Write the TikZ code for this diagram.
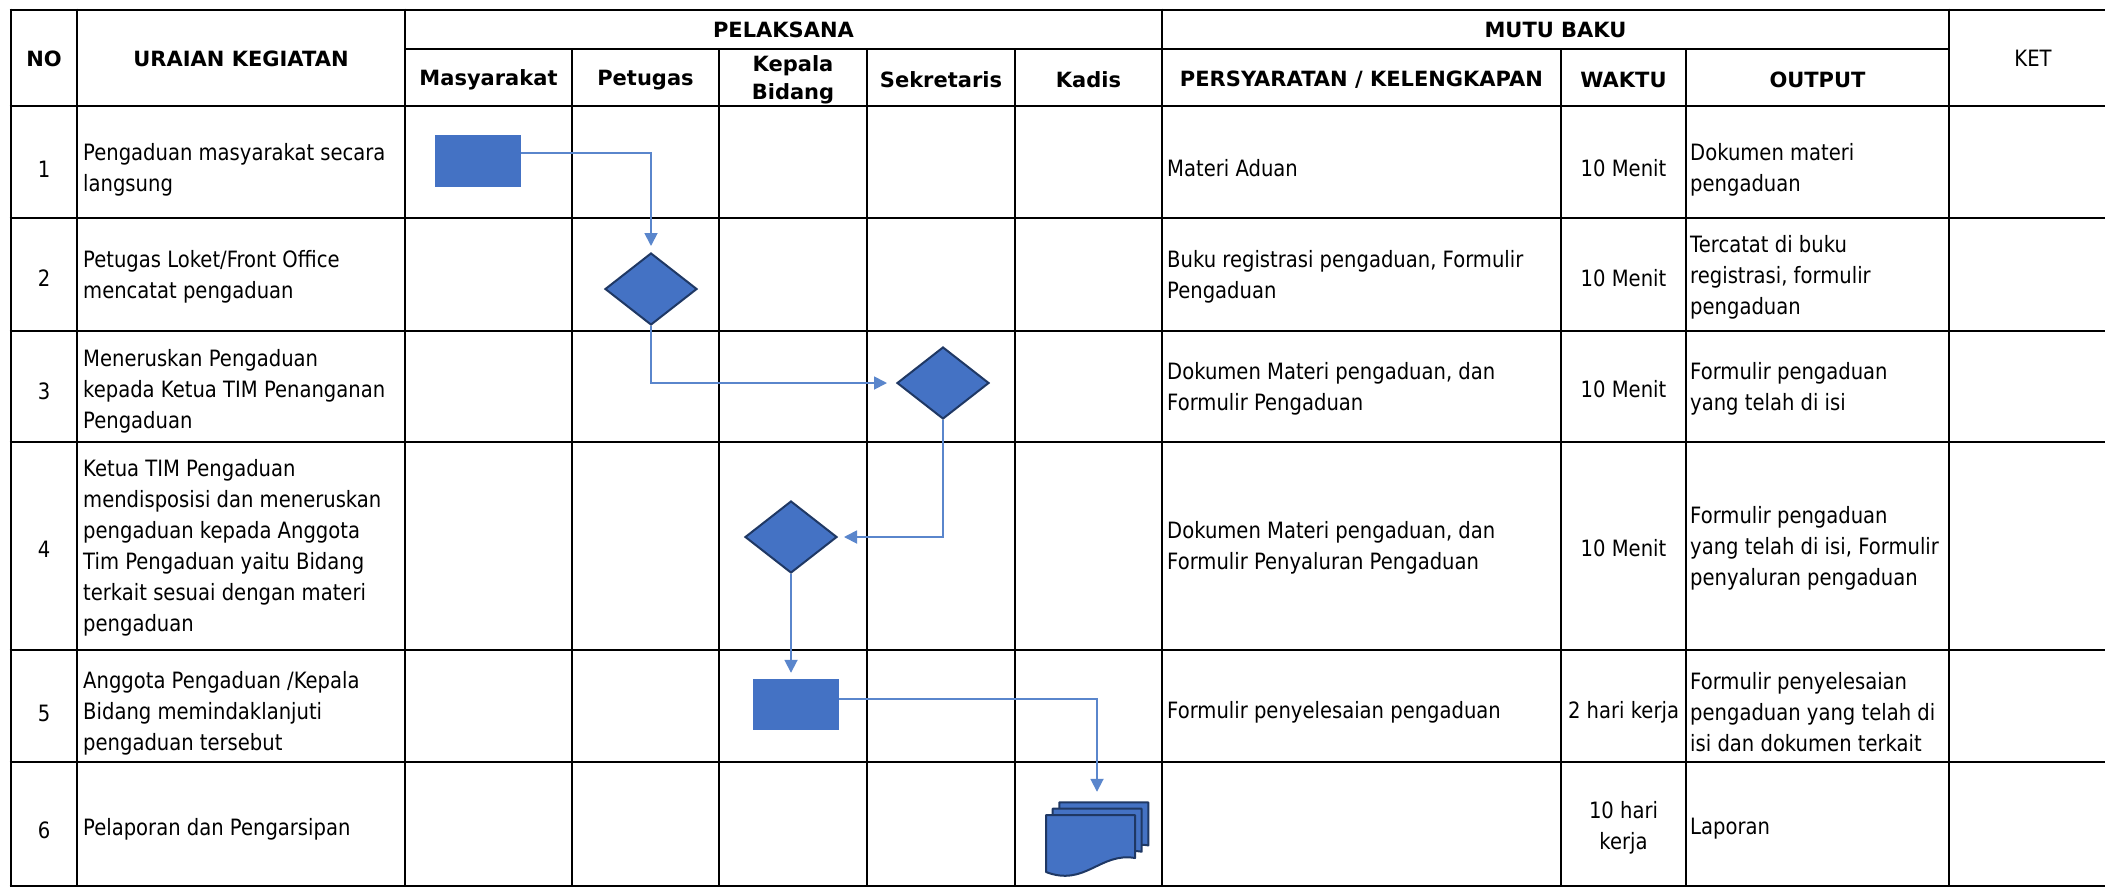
\documentclass[tikz,border=0pt]{standalone}
\usepackage{fontspec}
\setmainfont{DejaVu Sans}[FakeStretch=0.87]
\newfontfamily\hdrfont{DejaVu Sans}
\usetikzlibrary{shapes.geometric,arrows.meta}
\definecolor{boxblue}{HTML}{4472C4}
\definecolor{edgeblue}{HTML}{1F3864}
\definecolor{lineblue}{HTML}{5A86CC}
\begin{document}
\begin{tikzpicture}[x=1pt,y=-1pt,
  gridline/.style={line width=2.6pt, black},
  body/.style={font=\fontsize{22.5}{31}\selectfont, align=left, anchor=west, inner sep=0pt},
  ctr/.style={font=\fontsize{22.5}{31}\selectfont, align=center, inner sep=0pt},
  hdr/.style={font=\hdrfont\bfseries\fontsize{21}{28}\selectfont, align=center, inner sep=0pt},
  proc/.style={rectangle, fill=boxblue, inner sep=0pt, minimum width=86pt, minimum height=52pt},
  dec/.style={diamond, fill=boxblue, draw=edgeblue, line width=2pt, inner sep=0pt, minimum width=92pt, minimum height=72pt},
  conn/.style={draw=lineblue, line width=1.8pt, -{Triangle[length=13pt,width=13pt]}},
  docsh/.style={fill=boxblue, draw=edgeblue, line width=2pt, line join=round}
]
\useasboundingbox (0,0) rectangle (2105,887);
\fill[white] (0,0) rectangle (2105,887);

% grid
\foreach \yy in {10,106,218,331,442,650,762,886} \draw[gridline] (9.7,\yy) -- (2105,\yy);
\draw[gridline] (405,49) -- (1949,49);
\foreach \xx in {11,77,405,1162,1949} \draw[gridline] (\xx,8.7) -- (\xx,887.3);
\foreach \xx in {572,719,867,1015,1561,1686} \draw[gridline] (\xx,49) -- (\xx,887.3);

% headers
\node[hdr] (hno) at (44,59) {NO};
\node[hdr] (hur) at (241,59) {URAIAN KEGIATAN};
\node[hdr] (hpel) at (783.5,29.5) {PELAKSANA};
\node[hdr] (hmutu) at (1555.5,29.5) {MUTU BAKU};
\node[ctr] (hket) at (2033,58) {KET};
\node[hdr] (hmas) at (488.5,80) {Masyarakat};
\node[hdr] (hpet) at (645.5,80) {Petugas};
\node[hdr] (hkab) at (793,80) {Kepala\\Bidang};
\node[hdr] (hsek) at (941,80) {Sekretaris};
\node[hdr] (hkad) at (1088.5,80) {Kadis};
\node[hdr] (hper) at (1361.5,80) {PERSYARATAN / KELENGKAPAN};
\node[hdr] (hwak) at (1623.5,80) {WAKTU};
\node[hdr] (hout) at (1817.5,80) {OUTPUT};

% row 1
\node[ctr] (n1) at (44,169) {1};
\node[body] (u1) at (83,170) {Pengaduan masyarakat secara\\langsung};
\node[body] (p1) at (1167,168) {Materi Aduan};
\node[ctr] (w1) at (1623.5,168) {10 Menit};
\node[body] (o1) at (1690,170) {Dokumen materi\\pengaduan};
% row 2
\node[ctr] (n2) at (44,278) {2};
\node[body] (u2) at (83,277) {Petugas Loket/Front Office\\mencatat pengaduan};
\node[body] (p2) at (1167,277) {Buku registrasi pengaduan, Formulir\\Pengaduan};
\node[ctr] (w2) at (1623.5,278) {10 Menit};
\node[body] (o2) at (1690,277) {Tercatat di buku\\registrasi, formulir\\pengaduan};
% row 3
\node[ctr] (n3) at (44,391) {3};
\node[body] (u3) at (83,391) {Meneruskan Pengaduan\\kepada Ketua TIM Penanganan\\Pengaduan};
\node[body] (p3) at (1167,389) {Dokumen Materi pengaduan, dan\\Formulir Pengaduan};
\node[ctr] (w3) at (1623.5,389) {10 Menit};
\node[body] (o3) at (1690,389) {Formulir pengaduan\\yang telah di isi};
% row 4
\node[ctr] (n4) at (44,549) {4};
\node[body] (u4) at (83,548) {Ketua TIM Pengaduan\\mendisposisi dan meneruskan\\pengaduan kepada Anggota\\Tim Pengaduan yaitu Bidang\\terkait sesuai dengan materi\\pengaduan};
\node[body] (p4) at (1167,548) {Dokumen Materi pengaduan, dan\\Formulir Penyaluran Pengaduan};
\node[ctr] (w4) at (1623.5,548) {10 Menit};
\node[body] (o4) at (1690,548) {Formulir pengaduan\\yang telah di isi, Formulir\\penyaluran pengaduan};
% row 5
\node[ctr] (n5) at (44,713) {5};
\node[body] (u5) at (83,713) {Anggota Pengaduan /Kepala\\Bidang memindaklanjuti\\pengaduan tersebut};
\node[body] (p5) at (1167,712) {Formulir penyelesaian pengaduan};
\node[ctr] (w5) at (1623.5,712) {2 hari kerja};
\node[body] (o5) at (1690,712) {Formulir penyelesaian\\pengaduan yang telah di\\isi dan dokumen terkait};
% row 6
\node[ctr] (n6) at (44,830) {6};
\node[body] (u6) at (83,829) {Pelaporan dan Pengarsipan};
\node[ctr] (w6) at (1623.5,828) {10 hari\\kerja};
\node[body] (o6) at (1690,829) {Laporan};

% flow shapes
\node[proc] (r1) at (477.5,161) {};
\node[dec] (d2) at (651,289) {};
\node[dec] (d3) at (943,383) {};
\node[dec] (d4) at (791,537) {};
\node[proc, minimum height=51pt] (r5) at (796,704.5) {};
\node[inner sep=0pt, minimum width=102pt, minimum height=73pt] (doc) at (1097,839.5) {};
\foreach \dx/\dy in {13.3/-12.6, 6.65/-6.3, 0/0} {
  \filldraw[docsh, shift={(\dx,\dy)}] (1046,815) -- (1135,815) -- (1135,858)
    .. controls (1100,852) and (1085,887) .. (1046,872) -- cycle;
}

% connectors
\draw[conn, shorten >=6pt] ([yshift=8pt]r1.east) -| (d2.north);
\draw[conn, shorten >=9pt] (d2.south) |- (d3.west);
\draw[conn, shorten >=6pt] (d3.south) |- (d4.east);
\draw[conn, shorten >=6pt] (d4.south) -- (d4.south |- r5.north);
\draw[conn, shorten >=11pt] ([yshift=5.5pt]r5.east) -| (doc.north);
\end{tikzpicture}
\end{document}
